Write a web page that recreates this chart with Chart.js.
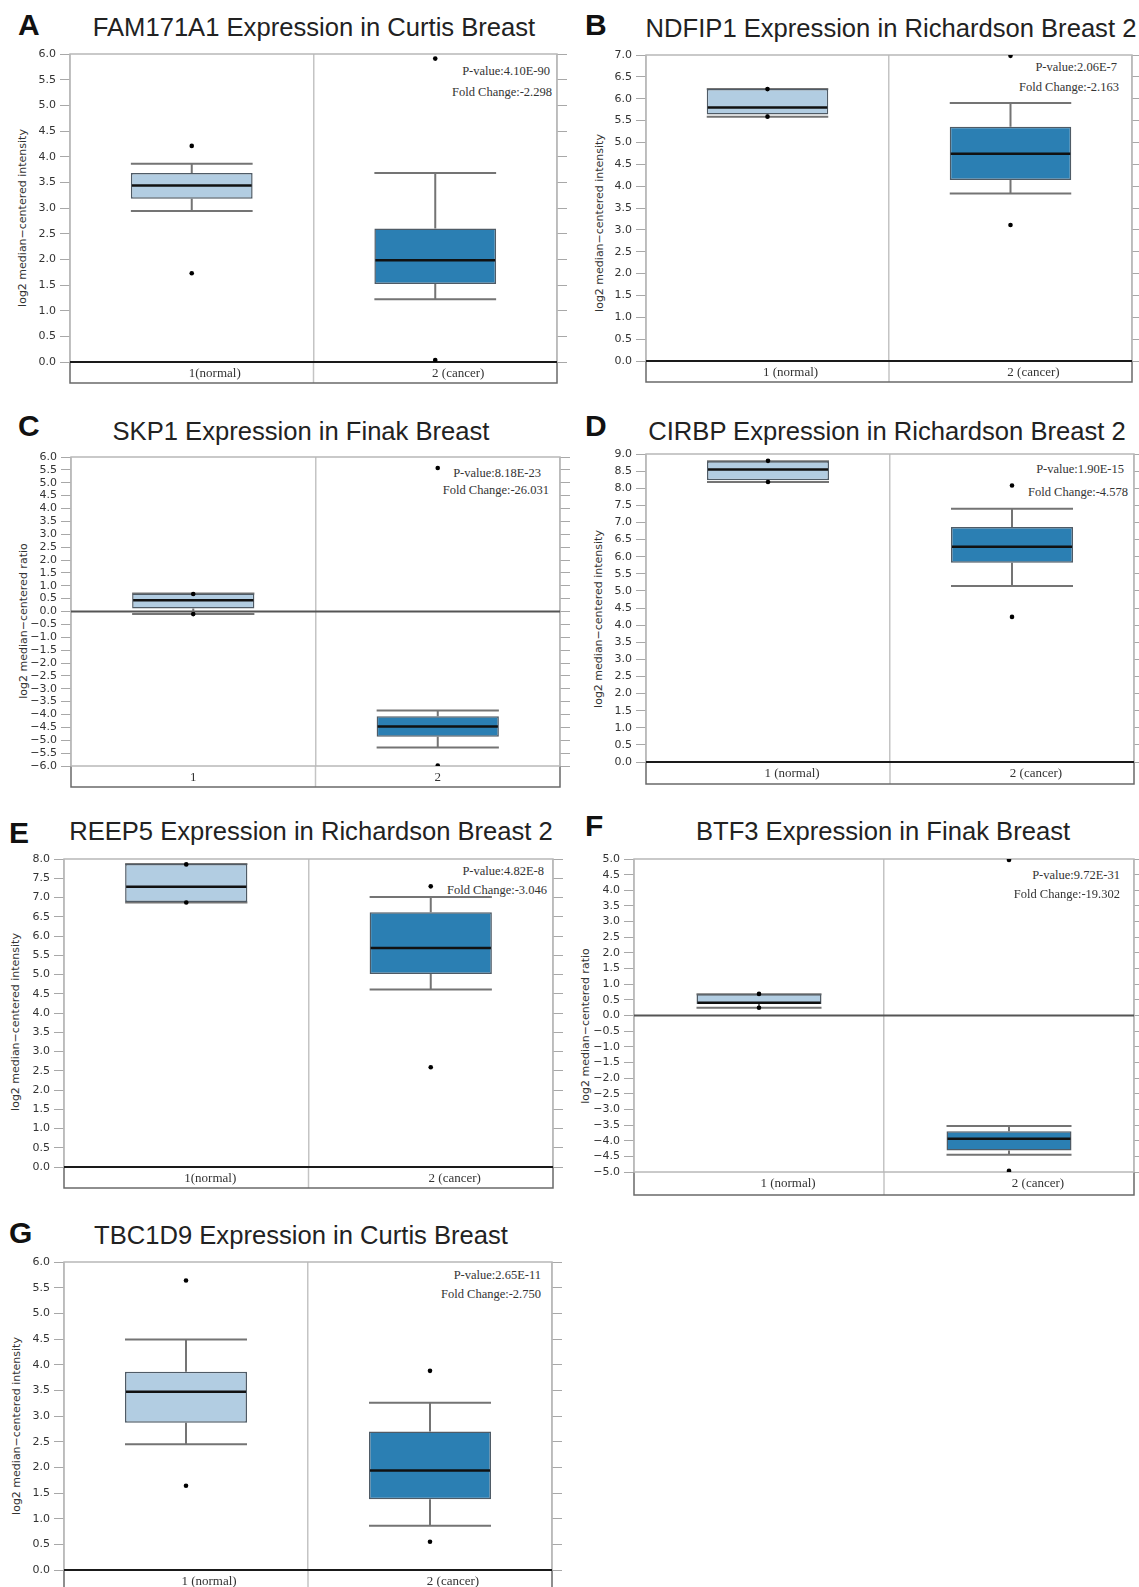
<!DOCTYPE html>
<html>
<head>
<meta charset="utf-8">
<script src="https://cdn.jsdelivr.net/npm/chart.js@4.4.1/dist/chart.umd.min.js"></script>
<style>
  body { margin: 0; background: #fff; }
  #page { position: relative; width: 1139px; height: 1587px; overflow: hidden; }
  .letter { position: absolute; font: bold 30px "Liberation Sans", Arial, sans-serif; color: #111; line-height: 1; }
  .title { position: absolute; width: 600px; text-align: center; font: 25.6px "Liberation Sans", Arial, sans-serif; color: #222; line-height: 1; white-space: nowrap; }
  .ylab { position: absolute; font: 11px "DejaVu Sans", sans-serif; color: #333; line-height: 1; white-space: nowrap; transform: translate(-50%, -50%) rotate(-90deg); }
  .note { position: absolute; width: 220px; text-align: right; font: 12.5px "Liberation Serif", "Times New Roman", serif; color: #333; line-height: 1; white-space: nowrap; }
  canvas { position: absolute; }
</style>
</head>
<body>
<div id="page"></div>
<script>
// each box: [whisker low, q1, median, q3, whisker high]
const labelsA = ['1(normal)', '2 (cancer)'];
const boxesA = [[2.94, 3.18, 3.44, 3.68, 3.86], [1.22, 1.52, 1.98, 2.60, 3.68]];
const outliersA = [[4.21, 1.73], [5.91, 0.04]];
const rangeA = [0, 6];

const labelsB = ['1 (normal)', '2 (cancer)'];
const boxesB = [[5.59, 5.64, 5.80, 6.22, 6.22], [3.83, 4.14, 4.74, 5.36, 5.90]];
const outliersB = [[6.22, 5.59], [6.98, 3.11]];
const rangeB = [0, 7];

const labelsC = ['1', '2'];
const boxesC = [[-0.10, 0.12, 0.44, 0.70, 0.70], [-5.28, -4.86, -4.47, -4.07, -3.84]];
const outliersC = [[0.68, -0.10], [5.57, -5.98]];
const rangeC = [-6, 6];

const labelsD = ['1 (normal)', '2 (cancer)'];
const boxesD = [[8.18, 8.23, 8.55, 8.79, 8.79], [5.14, 5.82, 6.29, 6.87, 7.40]];
const outliersD = [[8.80, 8.18], [8.08, 4.24]];
const rangeD = [0, 9];

const labelsE = ['1(normal)', '2 (cancer)'];
const boxesE = [[6.87, 6.88, 7.28, 7.87, 7.87], [4.61, 5.01, 5.69, 6.62, 7.01]];
const outliersE = [[7.86, 6.87], [7.29, 2.59]];
const rangeE = [0, 8];

const labelsF = ['1 (normal)', '2 (cancer)'];
const boxesF = [[0.25, 0.37, 0.41, 0.68, 0.68], [-4.45, -4.31, -3.94, -3.70, -3.53]];
const outliersF = [[0.69, 0.25], [4.97, -4.96]];
const rangeF = [-5, 5];

const labelsG = ['1 (normal)', '2 (cancer)'];
const boxesG = [[2.45, 2.87, 3.47, 3.86, 4.49], [0.86, 1.38, 1.94, 2.70, 3.26]];
const outliersG = [[5.64, 1.64], [3.88, 0.55]];
const rangeG = [0, 6];

const intensity = 'log2 median\u2212centered intensity';
const ratio = 'log2 median\u2212centered ratio';

const panels = [
  { letter: 'A', title: 'FAM171A1 Expression in Curtis Breast', ylabel: intensity, labels: labelsA, boxes: boxesA, outliers: outliersA, range: rangeA,
    pValue: 'P-value:4.10E-90', fold: 'Fold Change:-2.298',
    area: { l: 70, r: 557, t: 54, b: 362, band: 383 }, letterAt: [18, 35], titleAt: [314, 37], ylabAt: [22, 218],
    noteAt: [550, 71, 552, 92], labelOffset: 23, zeroColor: '#1a1a1a' },
  { letter: 'B', title: 'NDFIP1 Expression in Richardson Breast 2', ylabel: intensity, labels: labelsB, boxes: boxesB, outliers: outliersB, range: rangeB,
    pValue: 'P-value:2.06E-7', fold: 'Fold Change:-2.163',
    area: { l: 646, r: 1132, t: 55, b: 361, band: 382 }, letterAt: [585, 35], titleAt: [891, 38], ylabAt: [599, 223],
    noteAt: [1117, 67, 1119, 87], labelOffset: 23, zeroColor: '#1a1a1a' },
  { letter: 'C', title: 'SKP1 Expression in Finak Breast', ylabel: ratio, labels: labelsC, boxes: boxesC, outliers: outliersC, range: rangeC,
    pValue: 'P-value:8.18E-23', fold: 'Fold Change:-26.031',
    area: { l: 71, r: 560, t: 457, b: 766, band: 787 }, letterAt: [18, 436], titleAt: [301, 441], ylabAt: [23, 621],
    noteAt: [541, 473, 549, 490], labelOffset: 0, zeroColor: '#555' },
  { letter: 'D', title: 'CIRBP Expression in Richardson Breast 2', ylabel: intensity, labels: labelsD, boxes: boxesD, outliers: outliersD, range: rangeD,
    pValue: 'P-value:1.90E-15', fold: 'Fold Change:-4.578',
    area: { l: 646, r: 1134, t: 454, b: 762, band: 784 }, letterAt: [585, 436], titleAt: [887, 441], ylabAt: [598, 619],
    noteAt: [1124, 469, 1128, 492], labelOffset: 24, zeroColor: '#1a1a1a' },
  { letter: 'E', title: 'REEP5 Expression in Richardson Breast 2', ylabel: intensity, labels: labelsE, boxes: boxesE, outliers: outliersE, range: rangeE,
    pValue: 'P-value:4.82E-8', fold: 'Fold Change:-3.046',
    area: { l: 64, r: 553, t: 859, b: 1167, band: 1188 }, letterAt: [9, 843], titleAt: [311, 841], ylabAt: [15, 1022],
    noteAt: [544, 871, 547, 890], labelOffset: 24, zeroColor: '#1a1a1a' },
  { letter: 'F', title: 'BTF3 Expression in Finak Breast', ylabel: ratio, labels: labelsF, boxes: boxesF, outliers: outliersF, range: rangeF,
    pValue: 'P-value:9.72E-31', fold: 'Fold Change:-19.302',
    area: { l: 634, r: 1134, t: 859, b: 1172, band: 1195 }, letterAt: [585, 836], titleAt: [883, 841], ylabAt: [585, 1026],
    noteAt: [1120, 875, 1120, 894], labelOffset: 29, zeroColor: '#555' },
  { letter: 'G', title: 'TBC1D9 Expression in Curtis Breast', ylabel: intensity, labels: labelsG, boxes: boxesG, outliers: outliersG, range: rangeG,
    pValue: 'P-value:2.65E-11', fold: 'Fold Change:-2.750',
    area: { l: 64, r: 552, t: 1262, b: 1570, band: 1591 }, letterAt: [9, 1243], titleAt: [301, 1245], ylabAt: [16, 1426],
    noteAt: [541, 1275, 541, 1294], labelOffset: 23, zeroColor: '#1a1a1a' }
];

const Y_AXIS_W = 70;
const Y2_W = 12;
const PAD_TOP = 14;

// frame, band, zero line, whiskers and medians, all placed through the scales
const boxPlugin = {
  id: 'boxParts',
  beforeDatasetsDraw(chart, args, opts) {
    const { ctx, chartArea: a, scales: { x, y } } = chart;
    const bandH = opts.bandH;
    const mid = (x.getPixelForValue(0) + x.getPixelForValue(1)) / 2;
    ctx.save();
    ctx.lineWidth = 1.5;
    ctx.strokeStyle = '#c4c4c4';
    ctx.beginPath();
    ctx.moveTo(mid, a.bottom); ctx.lineTo(mid, a.bottom + bandH);
    ctx.stroke();
    ctx.strokeStyle = '#6a6a6a';
    ctx.beginPath();
    ctx.moveTo(a.left, a.bottom); ctx.lineTo(a.left, a.bottom + bandH);
    ctx.lineTo(a.right, a.bottom + bandH); ctx.lineTo(a.right, a.bottom);
    ctx.stroke();
    ctx.strokeStyle = '#b8b8b8';
    ctx.strokeRect(a.left, a.top, a.right - a.left, a.bottom - a.top);
    ctx.strokeStyle = opts.zeroColor;
    ctx.lineWidth = 2;
    const y0 = y.getPixelForValue(0);
    ctx.beginPath();
    ctx.moveTo(a.left, y0); ctx.lineTo(a.right, y0);
    ctx.stroke();

    const bars = chart.getDatasetMeta(opts.barIndex).data;
    ctx.strokeStyle = '#747474';
    ctx.lineWidth = 2;
    opts.boxes.forEach(function(b, i) {
      const cx = x.getPixelForValue(i);
      const hw = bars[i].width / 2;
      ctx.beginPath();
      ctx.moveTo(cx, y.getPixelForValue(b[0])); ctx.lineTo(cx, y.getPixelForValue(b[1]));
      ctx.moveTo(cx, y.getPixelForValue(b[3])); ctx.lineTo(cx, y.getPixelForValue(b[4]));
      ctx.moveTo(cx - hw, y.getPixelForValue(b[0])); ctx.lineTo(cx + hw, y.getPixelForValue(b[0]));
      ctx.moveTo(cx - hw, y.getPixelForValue(b[4])); ctx.lineTo(cx + hw, y.getPixelForValue(b[4]));
      ctx.stroke();
    });
    ctx.restore();
  },
  afterDatasetsDraw(chart, args, opts) {
    const { ctx, scales: { x, y } } = chart;
    const bars = chart.getDatasetMeta(opts.barIndex).data;
    ctx.save();
    ctx.strokeStyle = '#111';
    ctx.lineWidth = 2.5;
    opts.boxes.forEach(function(b, i) {
      const cx = x.getPixelForValue(i);
      const hw = bars[i].width / 2 - 1;
      const ym = y.getPixelForValue(b[2]);
      ctx.beginPath();
      ctx.moveTo(cx - hw, ym); ctx.lineTo(cx + hw, ym);
      ctx.stroke();
    });
    ctx.restore();
  }
};

Chart.defaults.font.family = '"DejaVu Sans", sans-serif';
Chart.defaults.animation = false;

const page = document.getElementById('page');

function addDiv(cls, text, css) {
  const d = document.createElement('div');
  d.className = cls;
  d.textContent = text;
  Object.assign(d.style, css);
  page.appendChild(d);
  return d;
}

function tickLabel(v) {
  return (v < 0 ? '\u2212' : '') + Math.abs(v).toFixed(1);
}

panels.forEach(function(p) {
  const a = p.area;
  addDiv('letter', p.letter, { left: p.letterAt[0] + 'px', top: (p.letterAt[1] - 25.4) + 'px' });
  addDiv('title', p.title, { left: (p.titleAt[0] - 300) + 'px', top: (p.titleAt[1] - 21.7) + 'px' });
  addDiv('ylab', p.ylabel, { left: p.ylabAt[0] + 'px', top: p.ylabAt[1] + 'px' });
  addDiv('note', p.pValue, { left: (p.noteAt[0] - 220) + 'px', top: (p.noteAt[1] - 6.3) + 'px' });
  addDiv('note', p.fold, { left: (p.noteAt[2] - 220) + 'px', top: (p.noteAt[3] - 6.3) + 'px' });

  const canvas = document.createElement('canvas');
  const w = (a.r - a.l) + Y_AXIS_W + Y2_W;
  const h = (a.band - a.t) + PAD_TOP + 2;
  canvas.width = w; canvas.height = h;
  canvas.style.width = w + 'px'; canvas.style.height = h + 'px';
  canvas.style.left = (a.l - Y_AXIS_W) + 'px';
  canvas.style.top = (a.t - PAD_TOP) + 'px';
  page.appendChild(canvas);

  const bandH = a.band - a.b;
  const yTicks = {
    stepSize: 0.5, autoSkip: false, padding: 4, color: '#333',
    font: { size: 11 }, callback: tickLabel
  };

  new Chart(canvas, {
    type: 'bar',
    data: {
      labels: p.labels,
      datasets: [
        {
          type: 'line', data: p.outliers.map(function(o) { return o[0]; }), showLine: false,
          pointRadius: 2.3, pointHoverRadius: 2.3, pointBackgroundColor: '#000', pointBorderWidth: 0, order: 0
        },
        {
          type: 'line', data: p.outliers.map(function(o) { return o[1]; }), showLine: false,
          pointRadius: 2.3, pointHoverRadius: 2.3, pointBackgroundColor: '#000', pointBorderWidth: 0, order: 0
        },
        {
          data: p.boxes.map(function(b) { return [b[1], b[3]]; }),
          backgroundColor: ['#b2cde2', '#2b7fb3'],
          borderColor: '#4f5b66', borderWidth: 1.5, borderSkipped: false,
          barPercentage: 0.5, categoryPercentage: 1, order: 1
        }
      ]
    },
    options: {
      responsive: false,
      devicePixelRatio: 1,
      layout: { padding: { top: PAD_TOP, bottom: 2, left: 0, right: 0 } },
      plugins: {
        legend: { display: false },
        tooltip: { enabled: false },
        boxParts: { boxes: p.boxes, bandH: bandH, zeroColor: p.zeroColor, barIndex: 2 }
      },
      scales: {
        x: {
          type: 'category', offset: true,
          grid: { offset: true, drawTicks: false, color: '#c4c4c4', lineWidth: 1.5 },
          border: { display: false },
          ticks: {
            padding: 4, labelOffset: p.labelOffset, color: '#333',
            font: { family: '"Liberation Serif", "Times New Roman", serif', size: 13 }
          },
          afterFit: function(s) { s.height = bandH; }
        },
        y: {
          min: p.range[0], max: p.range[1],
          ticks: yTicks,
          grid: { drawOnChartArea: false, tickLength: 10, tickColor: '#a8a8a8', tickWidth: 1 },
          border: { display: false },
          afterFit: function(s) { s.width = Y_AXIS_W; }
        },
        y2: {
          position: 'right', min: p.range[0], max: p.range[1],
          ticks: { display: false, stepSize: 0.5, autoSkip: false },
          grid: { drawOnChartArea: false, tickLength: 10, tickColor: '#a8a8a8', tickWidth: 1 },
          border: { display: false },
          afterFit: function(s) { s.width = Y2_W; }
        }
      }
    },
    plugins: [boxPlugin]
  });
});
</script>
</body>
</html>
